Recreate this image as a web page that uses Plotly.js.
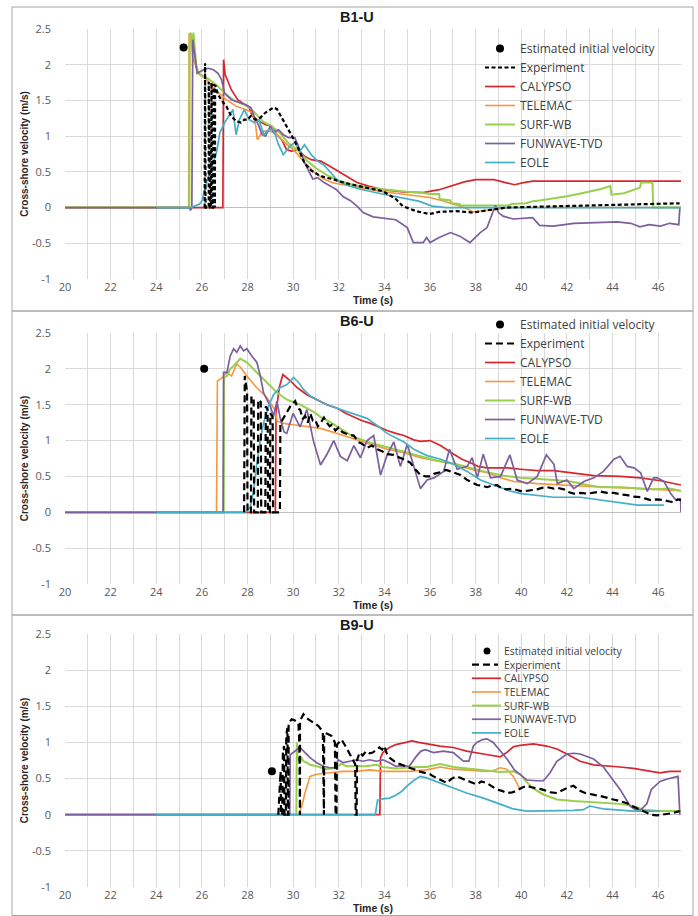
<!DOCTYPE html>
<html><head><meta charset="utf-8">
<script src="https://cdn.plot.ly/plotly-3.0.1.min.js"></script>
<style>html,body{margin:0;padding:0;background:#fff}#chart{width:698px;height:916px}</style>
</head><body><div id="chart"></div>
<script>
// ---------------- DATA ----------------
const panelTitles = ['B1-U', 'B6-U', 'B9-U'];
const seriesNames = ['Estimated initial velocity', 'Experiment', 'CALYPSO', 'TELEMAC', 'SURF-WB', 'FUNWAVE-TVD', 'EOLE'];
const xTickVals = [20, 22, 24, 26, 28, 30, 32, 34, 36, 38, 40, 42, 44, 46];
const yTickVals = [-1, -0.5, 0, 0.5, 1, 1.5, 2, 2.5];
const yTickText = ['-1', '-0.5', '0', '0.5', '1', '1.5', '2', '2.5'];

// ---- B1-U ----
const b1_Estimate = [[25.2, 2.24]];
const b1_Experiment = [[26.12,0],[26.14,2.02],[26.16,0],[26.3,0],[26.3,1.76],[26.36,0],[26.4,0],[26.42,1.75],[26.46,0],[26.5,0],[26.52,1.73],[26.55,0],[26.57,0],[26.58,1.72],[26.71,1.58],[26.93,1.47],[27.07,1.42],[27.29,1.28],[27.5,1.21],[27.71,1.19],[27.86,1.23],[28.0,1.23],[28.14,1.28],[28.36,1.23],[28.57,1.26],[28.79,1.33],[29.0,1.37],[29.14,1.4],[29.29,1.38],[29.43,1.3],[29.64,1.19],[29.86,1.05],[30.07,0.93],[30.21,0.84],[30.36,0.72],[30.5,0.62],[30.79,0.52],[31.1,0.46],[31.4,0.42],[31.73,0.4],[32.0,0.37],[32.46,0.33],[33.19,0.28],[33.92,0.23],[34.5,0.12],[34.8,0.02],[35.39,-0.05],[35.97,-0.09],[36.41,-0.06],[37.14,-0.05],[37.87,-0.07],[38.6,-0.03],[39.33,0.0],[40.5,0.01],[41.96,0.02],[42.7,0.03],[44.16,0.04],[45.62,0.05],[46.94,0.06]];
const b1_CALYPSO = [[20,0],[26.92,0],[26.95,2.07],[27.02,1.86],[27.1,1.8],[27.29,1.65],[27.57,1.51],[27.86,1.44],[28.07,1.4],[28.21,1.28],[28.5,1.21],[28.79,1.16],[29.07,1.14],[29.29,1.02],[29.5,0.95],[29.71,0.81],[29.93,0.79],[30.21,0.81],[30.5,0.72],[30.79,0.67],[31.21,0.65],[31.5,0.6],[31.71,0.56],[32.06,0.5],[32.4,0.43],[32.8,0.35],[33.3,0.3],[33.95,0.25],[34.8,0.22],[35.7,0.21],[36.4,0.25],[37.0,0.31],[37.5,0.36],[38.0,0.39],[38.8,0.39],[39.3,0.35],[39.7,0.32],[40.1,0.35],[40.5,0.37],[42,0.37],[47,0.37]];
const b1_TELEMAC = [[20,0],[25.42,0],[25.44,2.44],[25.52,2.4],[25.6,2.1],[25.86,1.87],[26.21,1.79],[26.64,1.63],[27.07,1.51],[27.5,1.42],[27.93,1.37],[28.21,1.33],[28.36,1.14],[28.43,0.95],[28.57,1.02],[28.64,1.07],[28.93,1.07],[29.21,1.05],[29.64,0.91],[30.07,0.79],[30.5,0.63],[30.93,0.49],[31.36,0.4],[31.7,0.35],[32.0,0.33],[32.5,0.3],[33.0,0.27],[33.5,0.25],[34.0,0.22],[34.5,0.2],[35.0,0.18],[35.5,0.16],[36.0,0.14],[36.5,0.1],[37.0,0.05],[37.5,0.0],[37.9,-0.06],[38.5,-0.04],[39.1,-0.02],[39.6,0.0],[47,0.0]];
const b1_SURFWB = [[20,0],[25.45,0],[25.47,2.3],[25.51,2.45],[25.57,2.3],[25.63,2.45],[25.75,2.0],[25.86,1.88],[26.3,1.8],[26.7,1.7],[27.0,1.6],[27.4,1.5],[27.8,1.45],[28.1,1.4],[28.4,1.3],[28.7,1.2],[29.0,1.15],[29.4,1.05],[29.8,0.9],[30.2,0.8],[30.6,0.66],[31.0,0.55],[31.5,0.45],[32.0,0.38],[32.5,0.33],[33.0,0.29],[33.5,0.27],[34.0,0.25],[34.5,0.23],[35.0,0.22],[35.5,0.21],[36.0,0.19],[36.4,0.19],[36.42,0.12],[36.9,0.1],[36.92,0.06],[37.3,0.05],[37.32,0.03],[39.4,0.03],[39.6,0.05],[40.2,0.06],[40.5,0.09],[40.8,0.1],[41.5,0.13],[42.0,0.16],[42.5,0.19],[43.0,0.22],[43.5,0.26],[43.9,0.3],[43.95,0.18],[44.5,0.2],[44.9,0.25],[45.2,0.28],[45.25,0.35],[45.75,0.35],[45.78,0.0],[47,0.0]];
const b1_FUNWAVE = [[20,0],[25.45,0],[25.5,-0.04],[25.56,0],[25.6,2.35],[25.7,2.1],[25.79,1.88],[26.07,1.93],[26.29,1.95],[26.5,1.93],[26.71,1.88],[26.86,1.79],[27.0,1.6],[27.29,1.51],[27.64,1.47],[27.93,1.44],[28.14,1.4],[28.29,1.28],[28.5,1.14],[28.64,1.02],[28.79,1.0],[29.0,1.14],[29.14,1.05],[29.36,1.09],[29.57,1.02],[29.79,0.98],[30.07,0.98],[30.21,0.88],[30.5,0.63],[30.71,0.49],[30.86,0.4],[31.07,0.42],[31.36,0.35],[31.64,0.3],[31.9,0.25],[32.2,0.15],[32.5,0.1],[32.8,0.02],[33.07,-0.07],[33.5,-0.13],[33.95,-0.15],[34.5,-0.17],[35.0,-0.28],[35.27,-0.49],[35.7,-0.49],[35.85,-0.42],[36.0,-0.49],[36.4,-0.42],[36.9,-0.35],[37.3,-0.4],[37.75,-0.49],[38.2,-0.35],[38.5,-0.28],[38.7,-0.09],[38.86,0.03],[39.0,-0.07],[39.2,-0.12],[39.65,-0.16],[40.2,-0.15],[40.5,-0.14],[40.8,-0.25],[41.4,-0.26],[42.3,-0.22],[43.1,-0.21],[43.7,-0.2],[44.2,-0.2],[44.8,-0.22],[45.2,-0.27],[45.6,-0.24],[46.1,-0.26],[46.5,-0.22],[46.9,-0.24],[46.95,0.0]];
const b1_EOLE = [[24,0],[25.5,0],[25.9,0.05],[26.0,0.09],[26.2,0.35],[26.36,0.49],[26.5,0.63],[26.64,0.77],[26.79,1.05],[27.0,1.19],[27.2,1.28],[27.36,1.37],[27.5,1.02],[27.64,1.23],[27.86,1.37],[28.07,1.23],[28.29,1.19],[28.5,1.23],[28.71,1.02],[28.93,1.09],[29.14,1.09],[29.36,0.88],[29.57,0.74],[29.86,0.86],[30.07,0.91],[30.29,0.79],[30.5,0.88],[30.79,0.74],[31.07,0.65],[31.4,0.58],[31.7,0.47],[32.0,0.36],[32.5,0.3],[32.9,0.26],[33.9,0.19],[34.65,0.14],[35.5,0.09],[36.1,0.02],[36.7,0.0],[47,0.0]];

// ---- B6-U ----
const b6_Estimate = [[26.1, 2.0]];
const b6_Experiment = [[27.85,0],[27.88,1.9],[27.98,1.68],[28.0,0],[28.15,0],[28.17,1.6],[28.27,1.61],[28.29,0],[28.45,0],[28.47,1.57],[28.58,1.54],[28.6,0],[28.78,0],[28.8,1.48],[28.88,1.43],[28.9,0],[28.98,0],[29.0,1.38],[29.1,1.33],[29.12,0],[29.42,0],[29.44,1.24],[29.66,1.36],[29.88,1.48],[30.09,1.55],[30.2,1.45],[30.31,1.43],[30.42,1.3],[30.53,1.34],[30.64,1.25],[30.75,1.38],[30.86,1.28],[30.97,1.29],[31.08,1.2],[31.19,1.24],[31.35,1.32],[31.48,1.25],[31.6,1.2],[31.7,1.22],[31.85,1.14],[31.99,1.18],[32.15,1.12],[32.3,1.1],[32.45,1.08],[32.66,1.07],[32.85,0.98],[33.0,0.96],[33.24,0.9],[33.45,0.93],[33.68,0.88],[33.9,0.85],[34.12,0.81],[34.4,0.8],[34.7,0.76],[34.9,0.73],[35.14,0.69],[35.35,0.6],[35.58,0.52],[35.8,0.5],[36.0,0.5],[36.2,0.54],[36.46,0.56],[36.7,0.59],[36.9,0.57],[37.1,0.55],[37.34,0.52],[37.63,0.45],[37.85,0.42],[38.07,0.38],[38.3,0.37],[38.5,0.35],[38.7,0.37],[38.94,0.38],[39.15,0.33],[39.38,0.32],[39.6,0.33],[39.82,0.31],[40.05,0.29],[40.26,0.3],[40.5,0.31],[40.7,0.32],[40.9,0.34],[41.14,0.35],[41.43,0.33],[41.6,0.34],[41.87,0.32],[42.1,0.28],[42.3,0.26],[42.6,0.27],[42.9,0.26],[43.2,0.28],[43.47,0.29],[43.75,0.27],[44.06,0.27],[44.35,0.25],[44.64,0.24],[44.9,0.22],[45.23,0.21],[45.45,0.19],[45.67,0.17],[45.95,0.18],[46.25,0.17],[46.5,0.15],[46.7,0.14],[46.85,0.18],[47.0,0.17]];
const b6_CALYPSO = [[20,0],[29.22,0],[29.25,1.4],[29.4,1.75],[29.55,1.92],[29.7,1.88],[29.95,1.81],[30.17,1.74],[30.6,1.64],[31.04,1.57],[31.48,1.5],[31.93,1.45],[32.3,1.38],[32.66,1.33],[33.0,1.28],[33.39,1.24],[33.8,1.18],[34.12,1.14],[34.5,1.1],[34.85,1.07],[35.29,1.01],[35.58,0.99],[36.0,1.0],[36.46,0.93],[37.04,0.81],[37.4,0.74],[37.77,0.69],[38.1,0.64],[38.5,0.62],[39.38,0.62],[39.97,0.6],[40.7,0.58],[41.43,0.58],[42.3,0.55],[43.18,0.51],[44.35,0.5],[45.23,0.48],[46.1,0.44],[47.0,0.38]];
const b6_TELEMAC = [[20,0],[26.64,0],[26.68,1.83],[26.9,1.88],[27.1,1.95],[27.3,1.9],[27.53,2.07],[27.7,2.02],[27.97,1.9],[28.4,1.74],[28.85,1.6],[29.2,1.43],[29.3,1.27],[29.58,1.24],[30.0,1.22],[30.6,1.2],[31.2,1.17],[31.93,1.1],[32.66,1.02],[33.39,0.95],[34.12,0.88],[34.85,0.83],[35.58,0.76],[36.31,0.71],[37.04,0.67],[37.77,0.6],[38.5,0.55],[39.09,0.48],[39.68,0.43],[40.7,0.4],[41.72,0.38],[43.0,0.36],[44.5,0.34],[46.0,0.32],[47.0,0.3]];
const b6_SURFWB = [[20,0],[26.95,0],[26.97,1.88],[27.1,1.9],[27.24,2.0],[27.39,2.04],[27.68,2.14],[27.97,2.09],[28.41,1.95],[28.85,1.81],[29.29,1.67],[29.73,1.57],[30.31,1.5],[30.9,1.4],[31.2,1.33],[31.5,1.28],[32.0,1.18],[32.66,1.05],[33.39,0.97],[34.12,0.91],[34.85,0.85],[35.58,0.78],[36.31,0.72],[37.04,0.68],[37.77,0.62],[38.5,0.56],[39.24,0.51],[39.97,0.48],[41.43,0.45],[42.16,0.43],[42.9,0.38],[43.47,0.35],[44.35,0.35],[45.8,0.32],[46.5,0.33],[47.0,0.3]];
const b6_FUNWAVE = [[20,0],[26.93,0],[26.95,1.95],[27.1,1.95],[27.24,2.18],[27.39,2.28],[27.53,2.23],[27.68,2.32],[27.83,2.25],[27.97,2.28],[28.19,2.18],[28.41,2.09],[28.56,1.9],[28.7,1.67],[28.85,1.57],[29.0,1.48],[29.14,1.34],[29.29,1.55],[29.44,1.3],[29.6,1.12],[29.72,1.1],[30.0,1.38],[30.3,1.19],[30.6,1.43],[30.9,0.98],[31.2,0.66],[31.5,0.82],[31.78,1.0],[32.07,0.78],[32.37,0.72],[32.66,0.93],[32.95,0.76],[33.24,1.0],[33.53,1.07],[33.83,0.52],[34.12,0.8],[34.41,0.98],[34.7,0.64],[35.0,0.95],[35.29,0.64],[35.58,0.33],[35.87,0.45],[36.17,0.48],[36.6,0.57],[36.85,0.88],[37.19,0.6],[37.63,0.64],[37.85,0.76],[38.07,0.48],[38.33,0.81],[38.65,0.48],[39.09,0.5],[39.5,0.8],[39.82,0.45],[40.26,0.4],[40.7,0.5],[41.1,0.8],[41.43,0.67],[41.58,0.4],[42.0,0.45],[42.3,0.33],[42.74,0.43],[43.18,0.48],[43.6,0.57],[44.06,0.74],[44.33,0.78],[44.64,0.64],[44.94,0.62],[45.23,0.55],[45.52,0.29],[45.8,0.48],[45.96,0.48],[46.25,0.43],[46.55,0.26],[46.77,0.17],[46.98,0.19],[47.0,0.0]];
const b6_EOLE = [[24,0],[27.9,0],[28.12,0.07],[28.27,0.31],[28.41,0.68],[28.56,1.01],[28.7,1.24],[28.92,1.48],[29.14,1.64],[29.44,1.74],[29.73,1.78],[30.02,1.88],[30.24,1.81],[30.46,1.71],[30.75,1.62],[31.04,1.57],[31.48,1.5],[31.92,1.45],[32.3,1.41],[32.66,1.38],[33.24,1.31],[33.68,1.21],[34.12,1.1],[34.85,0.98],[35.29,0.88],[35.87,0.79],[36.46,0.74],[37.04,0.67],[37.63,0.57],[38.21,0.45],[38.8,0.38],[39.38,0.31],[39.97,0.26],[40.7,0.24],[41.43,0.21],[42.6,0.21],[43.33,0.18],[44.35,0.14],[45.1,0.1],[46.25,0.1]];

// ---- B9-U ----
const b9_Estimate = [[29.07, 0.6]];
const b9_Experiment = [[29.35,0],[29.42,0.45],[29.45,0.6],[29.47,0],[29.52,0],[29.55,0.85],[29.6,0.95],[29.62,0],[29.68,0],[29.7,1.1],[29.75,1.2],[29.77,0],[29.8,0],[29.8,1.27],[29.94,1.32],[30.1,1.3],[30.23,1.27],[30.27,1.0],[30.28,0],[30.3,0],[30.3,1.3],[30.45,1.39],[30.55,1.35],[30.67,1.32],[30.88,1.27],[31.1,1.23],[31.3,1.15],[31.32,0],[31.35,0],[31.36,1.13],[31.5,1.12],[31.68,1.09],[31.83,1.0],[31.86,0],[31.9,0],[31.92,0.97],[32.12,1.04],[32.33,0.93],[32.55,0.79],[32.72,0.7],[32.74,0],[32.78,0],[32.8,0.75],[32.91,0.86],[33.05,0.82],[33.2,0.88],[33.35,0.85],[33.49,0.86],[33.65,0.9],[33.78,0.93],[33.9,0.9],[34.0,0.95],[34.1,0.85],[34.22,0.79],[34.35,0.76],[34.5,0.72],[34.68,0.7],[34.8,0.69],[34.95,0.67],[35.09,0.65],[35.3,0.63],[35.5,0.6],[35.7,0.58],[36.0,0.56],[36.15,0.53],[36.29,0.51],[36.5,0.48],[36.73,0.44],[36.95,0.5],[37.17,0.53],[37.4,0.5],[37.6,0.47],[37.8,0.45],[38.05,0.42],[38.25,0.46],[38.48,0.44],[38.7,0.4],[38.92,0.35],[39.15,0.33],[39.36,0.3],[39.6,0.31],[39.8,0.33],[40.0,0.37],[40.24,0.4],[40.45,0.38],[40.68,0.37],[40.9,0.35],[41.11,0.33],[41.3,0.31],[41.56,0.3],[41.8,0.34],[42.0,0.37],[42.29,0.4],[42.45,0.36],[42.58,0.33],[42.8,0.3],[43.02,0.28],[43.25,0.27],[43.46,0.26],[43.75,0.23],[44.04,0.21],[44.3,0.19],[44.63,0.16],[44.85,0.12],[45.06,0.09],[45.3,0.05],[45.5,0.02],[45.7,0.0],[45.94,-0.01],[46.15,0.0],[46.36,0.0],[46.6,0.02],[46.94,0.05]];
const b9_CALYPSO = [[20,0],[33.8,0],[33.83,0.79],[33.93,0.86],[34.22,0.93],[34.5,0.97],[34.94,1.0],[35.2,1.02],[35.5,1.0],[35.85,0.98],[36.44,0.95],[37.02,0.93],[37.6,0.88],[38.34,0.84],[39.07,0.8],[39.36,0.86],[39.65,0.94],[39.95,0.96],[40.53,0.98],[41.11,0.95],[41.56,0.91],[42.0,0.84],[42.58,0.74],[43.17,0.69],[43.75,0.68],[44.33,0.66],[44.91,0.64],[45.5,0.61],[46.08,0.58],[46.5,0.6],[47.0,0.6]];
const b9_TELEMAC = [[20,0],[30.23,0],[30.38,0.12],[30.52,0.3],[30.74,0.53],[31.03,0.56],[31.6,0.58],[32.19,0.6],[32.77,0.6],[33.35,0.62],[33.93,0.6],[35.09,0.6],[35.85,0.62],[36.44,0.66],[37.02,0.63],[37.6,0.62],[38.48,0.6],[38.77,0.61],[39.07,0.65],[39.36,0.63],[39.65,0.53],[39.95,0.35]];
const b9_SURFWB = [[20,0],[30.14,0],[30.16,1.0],[30.2,0.75],[30.25,0.8],[30.3,0.72],[30.35,0.8],[30.45,0.74],[30.6,0.72],[30.74,0.69],[31.03,0.67],[31.46,0.63],[31.9,0.65],[32.12,0.71],[32.33,0.67],[32.77,0.67],[33.2,0.67],[33.64,0.69],[33.93,0.66],[34.5,0.64],[34.94,0.65],[35.38,0.66],[35.85,0.66],[36.44,0.7],[37.02,0.66],[37.6,0.64],[38.48,0.61],[39.07,0.59],[39.65,0.6],[39.95,0.56],[40.24,0.45],[40.53,0.36],[40.97,0.28],[41.56,0.21],[42.29,0.19],[43.46,0.17],[44.33,0.15],[44.91,0.12],[45.35,0.07],[46.08,0.05],[47.0,0.05]];
const b9_FUNWAVE = [[20,0],[29.85,0],[29.87,0.83],[30.0,0.86],[30.3,0.93],[30.52,0.86],[30.74,0.79],[31.03,0.72],[31.32,0.67],[31.6,0.65],[31.83,0.65],[31.97,0.76],[32.2,0.72],[32.48,0.74],[32.77,0.76],[33.06,0.74],[33.35,0.76],[33.64,0.74],[33.93,0.76],[34.22,0.72],[34.5,0.67],[34.8,0.68],[35.09,0.67],[35.38,0.8],[35.6,0.88],[35.8,0.9],[36.15,0.86],[36.58,0.88],[37.02,0.86],[37.46,0.74],[37.7,0.74],[37.9,0.95],[38.05,1.0],[38.3,1.04],[38.5,1.05],[38.77,1.0],[39.07,0.88],[39.4,0.76],[39.7,0.62],[39.95,0.56],[40.24,0.48],[40.68,0.47],[40.97,0.47],[41.26,0.58],[41.56,0.74],[42.0,0.84],[42.3,0.85],[42.58,0.84],[43.17,0.77],[43.6,0.66],[43.9,0.53],[44.33,0.35],[44.77,0.12],[45.0,0.07],[45.25,0.07],[45.5,0.15],[45.7,0.35],[46.08,0.46],[46.36,0.49],[46.65,0.51],[46.87,0.53],[46.95,0.0]];
const b9_EOLE = [[24,0],[33.6,0],[33.7,0.2],[33.93,0.22],[34.22,0.23],[34.5,0.27],[34.75,0.32],[35.0,0.4],[35.27,0.47],[35.56,0.53],[35.85,0.51],[36.44,0.44],[37.02,0.37],[37.6,0.3],[38.34,0.23],[38.8,0.18],[39.07,0.14],[39.65,0.08],[40.24,0.05],[41.26,0.05],[42.3,0.06],[42.72,0.07],[43.0,0.12],[43.3,0.1],[43.6,0.08],[44.04,0.07],[44.91,0.05],[46.08,0.05]];

// ---------------- STYLE ----------------
const FONT = 'Open Sans, Liberation Sans, sans-serif';
const BOLD = 'Liberation Sans, Arial, sans-serif';
const colors = ['#000000', '#000000', '#d8262d', '#f7963e', '#98cf4c', '#7b5f9e', '#45afc8'];
const widths = [0, 2.2, 1.7, 1.6, 2.0, 1.7, 1.7];

const panels = [
  {est: b1_Estimate, exp: b1_Experiment, models: [b1_CALYPSO, b1_TELEMAC, b1_SURFWB, b1_FUNWAVE, b1_EOLE], dash: '4px,2.5px', top: 29, bottom: 279, box: [7, 311], legend: 'legend'},
  {est: b6_Estimate, exp: b6_Experiment, models: [b6_CALYPSO, b6_TELEMAC, b6_SURFWB, b6_FUNWAVE, b6_EOLE], dash: '7px,4px', top: 333, bottom: 584, box: [311, 615], legend: 'legend2'},
  {est: b9_Estimate, exp: b9_Experiment, models: [b9_CALYPSO, b9_TELEMAC, b9_SURFWB, b9_FUNWAVE, b9_EOLE], dash: '7px,4px', top: 634, bottom: 887, box: [615, 915.5], legend: null}
];

const W = 698, H = 916;
const px = v => v / W, py = v => 1 - v / H;
const traces = [];
const layout = {
  width: W, height: H, margin: {l: 0, r: 0, t: 0, b: 0},
  paper_bgcolor: '#ffffff', plot_bgcolor: '#ffffff',
  hovermode: false, showlegend: true,
  font: {family: FONT, color: '#404040'},
  annotations: [], shapes: []
};

panels.forEach((p, i) => {
  const n = i + 1;
  const xa = 'x' + (n === 1 ? '' : n), ya = 'y' + (n === 1 ? '' : n);
  const leg = p.legend;
  p.models.forEach((d, k) => {
    const idx = k + 2;
    traces.push({
      type: 'scatter', mode: 'lines', name: seriesNames[idx],
      x: d.map(q => q[0]), y: d.map(q => q[1]), xaxis: xa, yaxis: ya,
      line: {color: colors[idx], width: widths[idx]},
      legend: leg || 'legend', showlegend: !!leg, legendrank: idx + 1
    });
  });
  traces.push({
    type: 'scatter', mode: 'lines', name: seriesNames[1],
    x: p.exp.map(q => q[0]), y: p.exp.map(q => q[1]), xaxis: xa, yaxis: ya,
    line: {color: colors[1], width: widths[1], dash: p.dash},
    legend: leg || 'legend', showlegend: !!leg, legendrank: 2
  });
  traces.push({
    type: 'scatter', mode: 'markers', name: seriesNames[0],
    x: p.est.map(q => q[0]), y: p.est.map(q => q[1]), xaxis: xa, yaxis: ya,
    marker: {color: '#000000', size: 8},
    legend: leg || 'legend', showlegend: !!leg, legendrank: 1
  });

  const xKey = 'xaxis' + (n === 1 ? '' : n), yKey = 'yaxis' + (n === 1 ? '' : n);
  layout[xKey] = {
    domain: [px(65), px(681)], anchor: ya, range: [20, 47],
    tickvals: xTickVals, ticks: '', showline: false, zeroline: false,
    showgrid: true, gridcolor: '#d9d9d9', gridwidth: 1,
    minor: {dtick: 1, tick0: 20, showgrid: true, gridcolor: '#d9d9d9', gridwidth: 1},
    tickfont: {family: FONT, size: 11, color: '#595959'},
    title: {text: '<b>Time (s)</b>', font: {family: BOLD, size: 10.5, color: '#262626'}, standoff: 0},
    fixedrange: true
  };
  layout[yKey] = {
    domain: [py(p.bottom), py(p.top)], anchor: xa, range: [-1, 2.5],
    tickvals: yTickVals, ticktext: yTickText, ticks: '', showline: false,
    ticklabelstandoff: 13,
    zeroline: true, zerolinecolor: '#bfbfbf', zerolinewidth: 1,
    showgrid: true, gridcolor: '#d9d9d9', gridwidth: 1,
    tickfont: {family: FONT, size: 11, color: '#595959'},
    title: {text: '<b>Cross-shore velocity (m/s)</b>', font: {family: BOLD, size: 10, color: '#262626'}, standoff: 1},
    fixedrange: true
  };
  layout.annotations.push({
    xref: 'paper', yref: 'paper', x: px(357), y: py(p.box[0] + 10), xanchor: 'center', yanchor: 'middle',
    text: '<b>' + panelTitles[i] + '</b>', showarrow: false,
    font: {family: BOLD, size: 14.5, color: '#1a1a1a'}
  });
  layout.shapes.push({
    type: 'rect', xref: 'paper', yref: 'paper', x0: px(12), x1: px(693), y0: py(p.box[1]), y1: py(p.box[0]),
    line: {color: '#a6a6a6', width: 1}, fillcolor: 'rgba(0,0,0,0)', layer: 'below'
  });
});

const legendCommon = {
  xanchor: 'left', yanchor: 'top', bgcolor: 'rgba(255,255,255,0)', borderwidth: 0,
  font: {family: FONT, size: 12, color: '#404040'}, itemwidth: 30, tracegroupgap: 0,
  traceorder: 'normal', itemclick: false, itemdoubleclick: false
};
layout.legend = Object.assign({}, legendCommon, {x: px(480), y: py(34)});
layout.legend2 = Object.assign({}, legendCommon, {x: px(480), y: py(310)});

// compact legend for panel 3 (B9-U): one multi-line text block + symbol samples
const leg3Size = 10.5;
const leg3Step = leg3Size * 1.3;
const leg3First = 651;
const leg3Rows = seriesNames.map((_, k) => leg3First + k * leg3Step);
layout.annotations.push({
  xref: 'paper', yref: 'paper', x: px(502), y: py((leg3Rows[0] + leg3Rows[6]) / 2),
  xanchor: 'left', yanchor: 'middle', align: 'left',
  text: seriesNames.join('<br>'), showarrow: false,
  font: {family: FONT, size: leg3Size, color: '#404040'}
});
seriesNames.forEach((name, k) => {
  const yy = py(leg3Rows[k]);
  if (k === 0) {
    layout.shapes.push({type: 'circle', xref: 'paper', yref: 'paper',
      x0: px(483.5), x1: px(490.5), y0: py(leg3Rows[k] + 3.5), y1: py(leg3Rows[k] - 3.5),
      fillcolor: '#000000', line: {color: '#000000', width: 0}});
  } else {
    layout.shapes.push({type: 'line', xref: 'paper', yref: 'paper',
      x0: px(472), x1: px(k === 1 ? 498 : 501), y0: yy, y1: yy,
      line: {color: colors[k], width: k === 1 ? 2.2 : widths[k], dash: k === 1 ? '7px,4px' : 'solid'}});
  }
});

Plotly.newPlot('chart', traces, layout, {staticPlot: true, displayModeBar: false});
</script></body></html>
